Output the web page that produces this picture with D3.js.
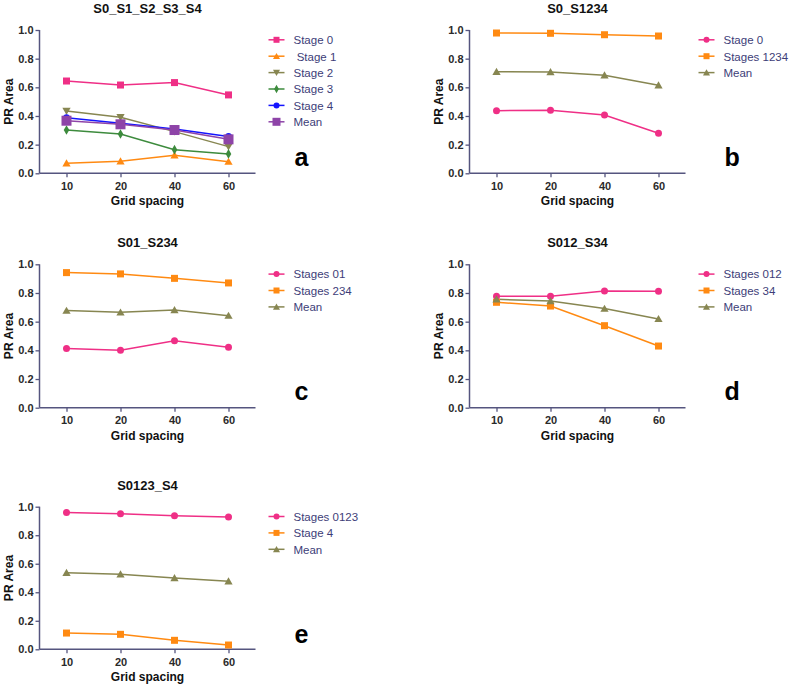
<!DOCTYPE html>
<html><head><meta charset="utf-8">
<script src="https://cdn.jsdelivr.net/npm/d3@7"></script>
<style>body{margin:0;background:#fff}svg{display:block}</style>
</head><body>
<svg id="chart" width="791" height="687"></svg>
<script>
const gridSpacing = ["10","20","40","60"];
const yTicks = [0,0.2,0.4,0.6,0.8,1.0];

// Panel a
const aNames = ["Stage 0"," Stage 1","Stage 2","Stage 3","Stage 4","Mean"];
const aStage0 = [0.644,0.616,0.633,0.547];
const aStage1 = [0.070,0.084,0.126,0.081];
const aStage2 = [0.435,0.391,0.291,0.186];
const aStage3 = [0.302,0.274,0.165,0.135];
const aStage4 = [0.388,0.349,0.309,0.256];
const aMean   = [0.367,0.342,0.302,0.237];
// Panel b
const bNames = ["Stage 0","Stages 1234","Mean"];
const bStage0 = [0.437,0.440,0.407,0.279];
const bStages1234 = [0.979,0.977,0.967,0.958];
const bMean = [0.709,0.707,0.684,0.614];
// Panel c
const cNames = ["Stages 01","Stages 234","Mean"];
const cStages01 = [0.412,0.400,0.467,0.421];
const cStages234 = [0.942,0.933,0.902,0.870];
const cMean = [0.677,0.665,0.681,0.642];
// Panel d
const dNames = ["Stages 012","Stages 34","Mean"];
const dStages012 = [0.777,0.777,0.814,0.812];
const dStages34 = [0.735,0.709,0.572,0.430];
const dMean = [0.756,0.744,0.691,0.619];
// Panel e
const eNames = ["Stages 0123","Stage 4","Mean"];
const eStages0123 = [0.960,0.951,0.937,0.928];
const eStage4 = [0.114,0.105,0.063,0.030];
const eMean = [0.537,0.526,0.500,0.477];

const PINK="#ef2f86", ORANGE="#ff8a12", OLIVE="#878651", GREEN="#3d8b3d", BLUE="#1414ff", PURPLE="#8e44a8";
const AXIS="#55557f";

const panels = [
  {title:"S0_S1_S2_S3_S4", letter:"a", x:39.5, top:30, h:143.3,
   series:[
    {name:aNames[0], v:aStage0, c:PINK, m:"square", s:7},
    {name:aNames[1], v:aStage1, c:ORANGE, m:"tri", s:7},
    {name:aNames[2], v:aStage2, c:OLIVE, m:"tridown", s:7},
    {name:aNames[3], v:aStage3, c:GREEN, m:"diamond", s:7},
    {name:aNames[4], v:aStage4, c:BLUE, m:"circle", s:7},
    {name:aNames[5], v:aMean, c:PURPLE, m:"square", s:10}]},
  {title:"S0_S1234", letter:"b", x:469.5, top:30, h:143.3,
   series:[
    {name:bNames[0], v:bStage0, c:PINK, m:"circle", s:7},
    {name:bNames[1], v:bStages1234, c:ORANGE, m:"square", s:7},
    {name:bNames[2], v:bMean, c:OLIVE, m:"tri", s:7}]},
  {title:"S01_S234", letter:"c", x:39.5, top:264.3, h:143.4,
   series:[
    {name:cNames[0], v:cStages01, c:PINK, m:"circle", s:7},
    {name:cNames[1], v:cStages234, c:ORANGE, m:"square", s:7},
    {name:cNames[2], v:cMean, c:OLIVE, m:"tri", s:7}]},
  {title:"S012_S34", letter:"d", x:469.5, top:264.3, h:143.4,
   series:[
    {name:dNames[0], v:dStages012, c:PINK, m:"circle", s:7},
    {name:dNames[1], v:dStages34, c:ORANGE, m:"square", s:7},
    {name:dNames[2], v:dMean, c:OLIVE, m:"tri", s:7}]},
  {title:"S0123_S4", letter:"e", x:39.5, top:506.7, h:142.6,
   series:[
    {name:eNames[0], v:eStages0123, c:PINK, m:"circle", s:7},
    {name:eNames[1], v:eStage4, c:ORANGE, m:"square", s:7},
    {name:eNames[2], v:eMean, c:OLIVE, m:"tri", s:7}]}
];

const svg = d3.select("#chart");
const FONT = "'Liberation Sans', Arial, sans-serif";
const W = 216;

function marker(g, type, x, y, s, color) {
  if (type === "square") {
    g.append("rect").attr("x", x - s/2).attr("y", y - s/2).attr("width", s).attr("height", s).attr("fill", color);
  } else if (type === "circle") {
    g.append("circle").attr("cx", x).attr("cy", y).attr("r", s/2).attr("fill", color);
  } else {
    const symType = type === "diamond" ? d3.symbolDiamond : d3.symbolTriangle;
    const area = type === "diamond" ? s*s*0.55 : s*s*0.6;
    const rot = type === "tridown" ? 180 : 0;
    g.append("path").attr("d", d3.symbol().type(symType).size(area)())
      .attr("transform", `translate(${x},${y + (type==="tri"? 0.8 : type==="tridown" ? -0.8 : 0)}) rotate(${rot})`)
      .attr("fill", color);
  }
}

panels.forEach(p => {
  const g = svg.append("g");
  const x = d3.scalePoint().domain(gridSpacing).range([p.x, p.x + W]).padding(0.5);
  const y = d3.scaleLinear().domain([0, 1]).range([p.top + p.h, p.top]);

  const yAxis = g.append("g").attr("transform", `translate(${p.x},0)`)
    .call(d3.axisLeft(y).tickValues(yTicks).tickFormat(d3.format(".1f")).tickSize(4).tickPadding(2));
  const xAxis = g.append("g").attr("transform", `translate(0,${p.top + p.h})`)
    .call(d3.axisBottom(x).tickSize(4).tickPadding(5));
  [yAxis, xAxis].forEach(ax => {
    ax.select(".domain").attr("stroke", AXIS).attr("stroke-width", 1.5);
    ax.selectAll(".tick line").attr("stroke", AXIS).attr("stroke-width", 1.3);
    ax.selectAll(".tick text").attr("fill", "#2a2a2a").style("font-family", FONT)
      .style("font-size", "11px").style("font-weight", "bold");
  });
  xAxis.select(".domain").attr("d", `M${p.x},0H${p.x + W}`);
  yAxis.select(".domain").attr("d", `M0,${p.top + p.h}V${p.top}`);

  g.append("text").attr("x", p.x + W/2).attr("y", p.top - 17)
    .attr("text-anchor", "middle").style("font-family", FONT).style("font-size", "13px")
    .style("font-weight", "bold").attr("fill", "#111").text(p.title);
  g.append("text").attr("x", p.x + W/2).attr("y", p.top + p.h + 32)
    .attr("text-anchor", "middle").style("font-family", FONT).style("font-size", "12px")
    .style("font-weight", "bold").attr("fill", "#111").text("Grid spacing");
  g.append("text").attr("transform", `translate(${p.x - 27},${p.top + p.h/2}) rotate(-90)`)
    .attr("text-anchor", "middle").style("font-family", FONT).style("font-size", "12px")
    .style("font-weight", "bold").attr("fill", "#111").text("PR Area");

  p.series.forEach(s => {
    const line = d3.line().x((d, i) => x(gridSpacing[i])).y(d => y(d));
    g.append("path").datum(s.v).attr("d", line).attr("fill", "none")
      .attr("stroke", s.c).attr("stroke-width", 1.5);
  });
  p.series.forEach(s => {
    s.v.forEach((d, i) => marker(g, s.m, x(gridSpacing[i]), y(d), s.s, s.c));
  });

  p.series.forEach((s, i) => {
    const ly = p.top + 9.8 + i * 16.4;
    const lx = p.x + 229;
    g.append("line").attr("x1", lx).attr("x2", lx + 16).attr("y1", ly).attr("y2", ly)
      .attr("stroke", s.c).attr("stroke-width", 1.5);
    marker(g, s.m, lx + 8, ly, s.s === 10 ? 8 : 6, s.c);
    g.append("text").attr("x", lx + 25).attr("y", ly + 4.3)
      .style("font-family", FONT).style("font-size", "11.5px").attr("fill", "#3d3d78")
      .style("white-space", "pre").attr("xml:space", "preserve").text(s.name);
  });

  g.append("text").attr("x", p.x + 255).attr("y", p.top + 136)
    .style("font-family", FONT).style("font-size", "25px").style("font-weight", "bold")
    .attr("fill", "#000").text(p.letter);
});
</script>
</body></html>
